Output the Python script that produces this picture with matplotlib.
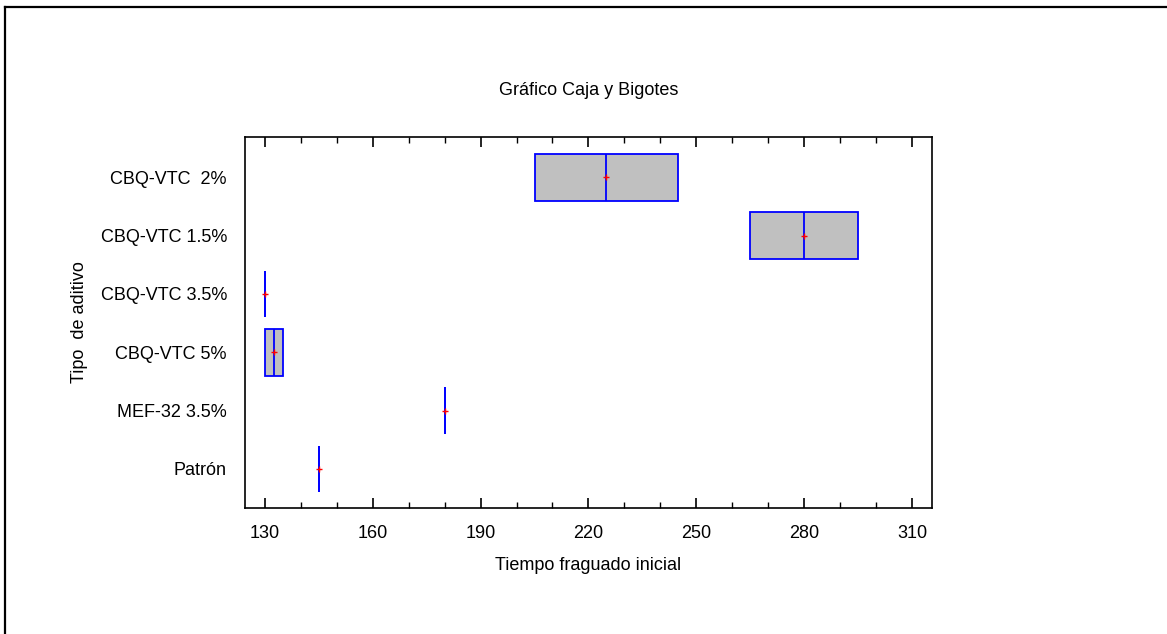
import matplotlib
matplotlib.use("Agg")
import matplotlib.pyplot as plt
from matplotlib.lines import Line2D
from matplotlib.ticker import FixedLocator

plt.rcParams["font.family"] = ["Liberation Sans", "DejaVu Sans"]
FS = 13

# datos (de abajo hacia arriba)
categorias = ["Patrón", "MEF-32 3.5%", "CBQ-VTC 5%", "CBQ-VTC 3.5%", "CBQ-VTC 1.5%", "CBQ-VTC  2%"]
minimos = [145, 180, 130, 130, 265, 205]
q1 = [145, 180, 130, 130, 265, 205]
medianas = [145, 180, 132.5, 130, 280, 225]
q3 = [145, 180, 135, 130, 295, 245]
maximos = [145, 180, 135, 130, 295, 245]
medias = [145, 180, 132.5, 130, 280, 225]

ticks_mayores = [130, 160, 190, 220, 250, 280, 310]
ticks_menores = list(range(130, 320, 10))

stats = []
for i, nombre in enumerate(categorias):
    stats.append({"label": nombre, "whislo": minimos[i], "q1": q1[i], "med": medianas[i],
                  "q3": q3[i], "whishi": maximos[i], "mean": medias[i], "fliers": []})

fig = plt.figure(figsize=(11.67, 6.34), dpi=100)
ax = fig.add_axes([0.2099, 0.1987, 0.5887, 0.5852])

pos = list(range(1, len(categorias) + 1))
ax.bxp(stats, positions=pos, orientation="horizontal", widths=0.8, patch_artist=True,
       showmeans=True, showcaps=False,
       boxprops=dict(facecolor="#c0c0c0", edgecolor="#0000ff", linewidth=1.3),
       medianprops=dict(color="#0000ff", linewidth=1.3),
       whiskerprops=dict(color="#0000ff", linewidth=1.3),
       meanprops=dict(marker="+", markeredgecolor="#ff0000", markersize=5, markeredgewidth=1))

ax.set_xlim(124.5, 315.5)
ax.set_ylim(0.33, 6.69)
ax.xaxis.set_major_locator(FixedLocator(ticks_mayores))
ax.xaxis.set_minor_locator(FixedLocator(ticks_menores))
ax.tick_params(axis="x", which="both", direction="in", top=True, bottom=True,
               labelsize=FS, pad=12, color="black")
ax.tick_params(axis="x", which="major", length=7, width=1.2)
ax.tick_params(axis="x", which="minor", length=4, width=1.0)
ax.tick_params(axis="y", which="both", length=0, labelsize=FS, pad=13)
ax.set_yticks(pos)
ax.set_yticklabels(categorias)
for s in ax.spines.values():
    s.set_linewidth(1.2)

ax.set_xlabel("Tiempo fraguado inicial", fontsize=FS, labelpad=11)
ax.set_ylabel("Tipo  de aditivo", fontsize=FS, labelpad=9)
ax.set_title("Gráfico Caja y Bigotes", fontsize=FS, pad=30)

# marco exterior (solo borde superior e izquierdo visibles)
fig.add_artist(Line2D([5 / 1167, 1.0], [1 - 6.5 / 634, 1 - 6.5 / 634], color="black",
                      linewidth=1.6, transform=fig.transFigure))
fig.add_artist(Line2D([5 / 1167, 5 / 1167], [1 - 6.5 / 634, 0.0], color="black",
                      linewidth=1.6, transform=fig.transFigure))

fig.savefig("out.png", dpi=100)
